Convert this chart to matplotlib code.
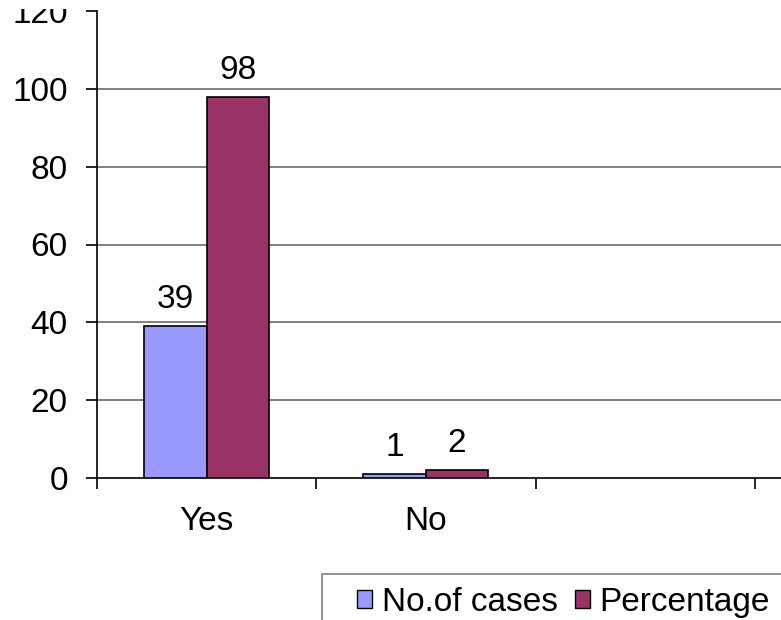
import matplotlib.pyplot as plt
from matplotlib.patches import Patch, Rectangle

categories = ['Yes', 'No']
cases = [39, 1]
percentage = [98, 2]
series_names = ['No.of cases', 'Percentage']
yticks = [0, 20, 40, 60, 80, 100, 120]

blue = '#9999FF'
maroon = '#993366'
fs = 24

plt.rcParams['font.family'] = ['Liberation Sans', 'DejaVu Sans']

fig = plt.figure(figsize=(7.81, 6.20), dpi=100)
# plot area runs past the right edge of the picture (cropped like the reference)
ax = fig.add_axes([97 / 781, 142 / 620, 877 / 781, 467 / 620])

w = 0.285
xs = list(range(len(categories)))
b1 = ax.bar([x - w / 2 for x in xs], cases, w, color=blue, edgecolor='black', lw=1.2, zorder=3)
b2 = ax.bar([x + w / 2 for x in xs], percentage, w, color=maroon, edgecolor='black', lw=1.2, zorder=3)

for bars, vals in ((b1, cases), (b2, percentage)):
    for r, v in zip(bars, vals):
        ax.annotate(str(v), (r.get_x() + r.get_width() / 2, v), xytext=(0, 13),
                    textcoords='offset points', ha='center', va='baseline', fontsize=fs)

ax.set_xlim(-0.5, 3.5)
ax.set_ylim(0, 120)

ax.set_yticks(yticks)
ax.tick_params(axis='y', labelsize=fs, length=8, width=1.2, direction='out', pad=13)
for y in yticks[1:-1]:
    ax.axhline(y, color='#808080', lw=1.4, zorder=1)

ax.set_xticks([-0.5, 0.5, 1.5, 2.5, 3.5])
ax.set_xticklabels([])
ax.tick_params(axis='x', which='major', length=8, width=1.2, direction='out')
ax.set_xticks(xs, minor=True)
ax.set_xticklabels(categories, minor=True)
ax.tick_params(axis='x', which='minor', length=0, labelsize=fs, pad=20)

for s in ('top', 'right'):
    ax.spines[s].set_visible(False)
ax.spines['left'].set_linewidth(1.2)
ax.spines['bottom'].set_linewidth(1.2)

# top of the picture is cropped in the reference
fig.add_artist(Rectangle((0, 1 - 9 / 620), 1, 9 / 620, transform=fig.transFigure,
                         facecolor='white', edgecolor='none', zorder=10))

# legend box, cut off at the right and bottom edges
fig.add_artist(Rectangle((322 / 781, -0.1), 0.7, 0.1 + 46 / 620, transform=fig.transFigure,
                         facecolor='white', edgecolor='#808080', lw=1.2, zorder=5))
handles = [Patch(facecolor=blue, edgecolor='black'), Patch(facecolor=maroon, edgecolor='black')]
leg = fig.legend(handles, series_names, loc='upper left', bbox_to_anchor=(357 / 781, 1 - 587 / 620),
                 ncol=2, fontsize=fs, frameon=False,
                 handlelength=0.45, handleheight=0.45, handletextpad=0.3,
                 columnspacing=0.5, borderpad=0, borderaxespad=0)
leg.set_zorder(6)

fig.savefig('out.png', dpi=100)
